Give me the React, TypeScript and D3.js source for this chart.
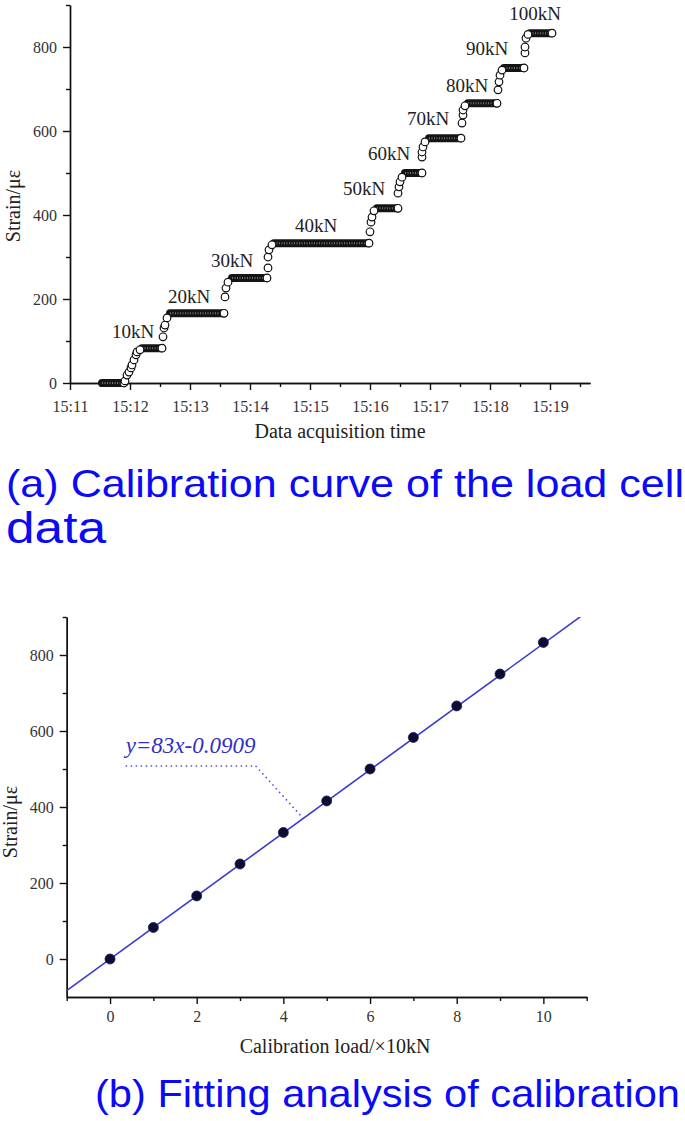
import React, { useEffect, useRef } from "react";
import * as d3 from "d3";

// (a) load cell record: flat holds and the points on each loading ramp
const holdStart = ["15:11:32", "15:12:12", "15:12:40", "15:13:42", "15:14:24", "15:16:07", "15:16:35", "15:16:59", "15:17:38", "15:18:14", "15:18:40"];
const holdEnd = ["15:11:54", "15:12:32", "15:13:34", "15:14:17", "15:15:59", "15:16:28", "15:16:52", "15:17:31", "15:18:07", "15:18:34", "15:19:02"];
const holdStrain = [0, 83, 166, 250, 333, 416, 500, 583, 666, 750, 833];

const rampTimes = [
  "15:11:55", "15:11:57", "15:11:59", "15:12:01", "15:12:02", "15:12:04", "15:12:06", "15:12:07", "15:12:10",
  "15:12:33", "15:12:34", "15:12:35", "15:12:37",
  "15:13:35", "15:13:36", "15:13:38",
  "15:14:18", "15:14:18", "15:14:19", "15:14:22",
  "15:16:00", "15:16:01", "15:16:02", "15:16:04",
  "15:16:28", "15:16:29", "15:16:30", "15:16:32",
  "15:16:52", "15:16:52", "15:16:53", "15:16:55",
  "15:17:32", "15:17:33", "15:17:33", "15:17:35",
  "15:18:08", "15:18:09", "15:18:10", "15:18:12",
  "15:18:35", "15:18:35", "15:18:36", "15:18:38"
];
const rampStrain = [
  5, 19, 26, 36, 43, 55, 67, 74, 79,
  110, 131, 138, 155,
  205, 226, 240,
  274, 300, 317, 329,
  360, 383, 395, 410,
  452, 467, 479, 490,
  538, 550, 562, 574,
  619, 638, 650, 660,
  698, 717, 733, 745,
  786, 800, 821, 830
];

const loadLabels = ["10kN", "20kN", "30kN", "40kN", "50kN", "60kN", "70kN", "80kN", "90kN", "100kN"];
const labelTimes = ["15:12:03", "15:12:59", "15:13:42", "15:15:06", "15:15:54", "15:16:19", "15:16:58", "15:17:37", "15:17:57", "15:18:45"];
const labelStrain = [107, 190, 276, 360, 448, 531, 614, 693, 781, 864];

const timeTicks = ["15:11", "15:12", "15:13", "15:14", "15:15", "15:16", "15:17", "15:18", "15:19"];

// (b) calibration fit
const loads = [0, 1, 2, 3, 4, 5, 6, 7, 8, 9, 10];
const strains = [0, 83, 166, 250, 333, 416, 500, 583, 666, 750, 833];
const fitSlope = 83;
const fitIntercept = -0.0909;

const serif = "'Liberation Serif', 'Times New Roman', serif";
const sans = "'Liberation Sans', Arial, sans-serif";
const tickColor = "#333";

const App = () => {
  const svgRef = useRef(null);

  useEffect(() => {
    const svg = d3.select(svgRef.current);
    svg.selectAll("*").remove();
    const width = 685;
    const height = 1121;
    svg.attr("width", width).attr("height", height);
    svg.append("rect").attr("width", width).attr("height", height).attr("fill", "#fff");

    const parseT = d3.timeParse("%H:%M:%S");
    const parseM = d3.timeParse("%H:%M");

    const styleAxis = (g) => {
      g.selectAll("path,line").attr("stroke", "#111").attr("stroke-width", 1.4);
      g.selectAll("text").attr("fill", tickColor).style("font-family", serif).style("font-size", "16px");
    };

    // ---------- chart (a) ----------
    const xa = d3.scaleTime().domain([parseT("15:11:00"), parseT("15:19:40")]).range([70, 590]);
    const ya = d3.scaleLinear().domain([0, 900]).range([383, 5]);

    const ga = svg.append("g");

    ga.append("g")
      .attr("transform", "translate(0,383)")
      .call(d3.axisBottom(xa).tickValues(timeTicks.map(parseM)).tickFormat(d3.timeFormat("%H:%M")).tickSize(7).tickSizeOuter(0).tickPadding(11))
      .call(styleAxis);
    ga.append("g")
      .attr("transform", "translate(0,383)")
      .call(d3.axisBottom(xa).tickValues(timeTicks.map((t) => d3.timeSecond.offset(parseM(t), 30))).tickFormat("").tickSize(4).tickSizeOuter(0))
      .call(styleAxis);
    ga.append("g")
      .attr("transform", "translate(70,0)")
      .call(d3.axisLeft(ya).tickValues([0, 200, 400, 600, 800]).tickSize(7).tickSizeOuter(0).tickPadding(6))
      .call(styleAxis);
    ga.append("g")
      .attr("transform", "translate(70,0)")
      .call(d3.axisLeft(ya).tickValues([100, 300, 500, 700, 900]).tickFormat("").tickSize(4).tickSizeOuter(0))
      .call(styleAxis);

    // flat holds: dense overlapping markers read as a dark band
    holdStrain.forEach((v, i) => {
      const x1 = xa(parseT(holdStart[i]));
      const x2 = xa(parseT(holdEnd[i]));
      ga.append("line")
        .attr("x1", x1).attr("x2", x2).attr("y1", ya(v)).attr("y2", ya(v))
        .attr("stroke", "#141414").attr("stroke-width", 8).attr("stroke-linecap", "round");
      ga.append("line")
        .attr("x1", x1).attr("x2", x2).attr("y1", ya(v)).attr("y2", ya(v))
        .attr("stroke", "#707070").attr("stroke-width", 2).attr("stroke-dasharray", "1 1.5");
      ga.append("circle")
        .attr("cx", x2).attr("cy", ya(v)).attr("r", 3.8)
        .attr("fill", "#fff").attr("stroke", "#111").attr("stroke-width", 1.2);
    });

    ga.selectAll(".ramp")
      .data(rampTimes.map((t, i) => [parseT(t), rampStrain[i]]))
      .enter()
      .append("circle")
      .attr("cx", (d) => xa(d[0]))
      .attr("cy", (d) => ya(d[1]))
      .attr("r", 3.8)
      .attr("fill", "#fff")
      .attr("stroke", "#111")
      .attr("stroke-width", 1.2);

    ga.selectAll(".load-label")
      .data(loadLabels)
      .enter()
      .append("text")
      .attr("x", (d, i) => xa(parseT(labelTimes[i])))
      .attr("y", (d, i) => ya(labelStrain[i]))
      .attr("text-anchor", "middle")
      .attr("fill", "#222")
      .style("font-family", serif)
      .style("font-size", "19px")
      .text((d) => d);

    ga.append("text")
      .attr("x", 340).attr("y", 438)
      .attr("text-anchor", "middle")
      .attr("fill", "#222")
      .style("font-family", serif).style("font-size", "20px")
      .text("Data acquisition time");

    ga.append("text")
      .attr("transform", "translate(20,206) rotate(-90)")
      .attr("text-anchor", "middle")
      .attr("fill", "#222")
      .style("font-family", serif).style("font-size", "20px")
      .text("Strain/με");

    // ---------- captions ----------
    svg.append("text")
      .attr("x", 6).attr("y", 497)
      .attr("textLength", 678).attr("lengthAdjust", "spacingAndGlyphs")
      .attr("fill", "#0a0af5")
      .style("font-family", sans).style("font-size", "39px")
      .text("(a) Calibration curve of the load cell");
    svg.append("text")
      .attr("x", 6).attr("y", 543)
      .attr("textLength", 100).attr("lengthAdjust", "spacingAndGlyphs")
      .attr("fill", "#0a0af5")
      .style("font-family", sans).style("font-size", "44px")
      .text("data");

    // ---------- chart (b) ----------
    const xb = d3.scaleLinear().domain([-1, 11]).range([66.7, 586.7]);
    const yb = d3.scaleLinear().domain([-100, 900]).range([997, 617]);

    const gb = svg.append("g");
    gb.append("g")
      .attr("transform", "translate(0,997)")
      .call(d3.axisBottom(xb).tickValues([0, 2, 4, 6, 8, 10]).tickSize(7).tickSizeOuter(0).tickPadding(7))
      .call(styleAxis);
    gb.append("g")
      .attr("transform", "translate(0,997)")
      .call(d3.axisBottom(xb).tickValues([-1, 1, 3, 5, 7, 9, 11]).tickFormat("").tickSize(4).tickSizeOuter(0))
      .call(styleAxis);
    gb.append("g")
      .attr("transform", "translate(66.7,0)")
      .call(d3.axisLeft(yb).tickValues([0, 200, 400, 600, 800]).tickSize(7).tickSizeOuter(0).tickPadding(6))
      .call(styleAxis);
    gb.append("g")
      .attr("transform", "translate(66.7,0)")
      .call(d3.axisLeft(yb).tickValues([100, 300, 500, 700, 900]).tickFormat("").tickSize(4).tickSizeOuter(0))
      .call(styleAxis);

    svg.append("defs").append("clipPath").attr("id", "plot-b")
      .append("rect").attr("x", 66.7).attr("y", 617).attr("width", 520).attr("height", 380);

    gb.append("line")
      .attr("clip-path", "url(#plot-b)")
      .attr("x1", xb(-1)).attr("y1", yb(fitSlope * -1 + fitIntercept))
      .attr("x2", xb(11)).attr("y2", yb(fitSlope * 11 + fitIntercept))
      .attr("stroke", "#3b3bd0").attr("stroke-width", 1.6);

    gb.selectAll(".pt")
      .data(loads)
      .enter()
      .append("circle")
      .attr("cx", (d) => xb(d))
      .attr("cy", (d, i) => yb(strains[i]))
      .attr("r", 5)
      .attr("fill", "#0c0c30")
      .attr("stroke", "#1a1a5a")
      .attr("stroke-width", 0.8);

    // equation leader
    const leader = d3.line().x((d) => xb(d[0])).y((d) => yb(d[1]));
    gb.append("path")
      .attr("d", leader([[0.36, 508], [3.36, 508], [4.45, 371]]))
      .attr("fill", "none")
      .attr("stroke", "#5050d8")
      .attr("stroke-width", 1.6)
      .attr("stroke-dasharray", "1.5 3.5");
    gb.append("text")
      .attr("x", xb(0.36)).attr("y", yb(542))
      .attr("fill", "#3030c8")
      .style("font-family", serif).style("font-style", "italic").style("font-size", "23px")
      .text(`y=${fitSlope}x${fitIntercept}`);

    gb.append("text")
      .attr("x", 335).attr("y", 1053)
      .attr("text-anchor", "middle")
      .attr("fill", "#222")
      .style("font-family", serif).style("font-size", "20px")
      .text("Calibration load/×10kN");

    gb.append("text")
      .attr("transform", "translate(17,822) rotate(-90)")
      .attr("text-anchor", "middle")
      .attr("fill", "#222")
      .style("font-family", serif).style("font-size", "20px")
      .text("Strain/με");

    svg.append("text")
      .attr("x", 95).attr("y", 1107)
      .attr("textLength", 585).attr("lengthAdjust", "spacingAndGlyphs")
      .attr("fill", "#0a0af5")
      .style("font-family", sans).style("font-size", "39px")
      .text("(b) Fitting analysis of calibration");
  }, []);

  return <svg ref={svgRef} style={{ position: "absolute", left: 0, top: 0 }}></svg>;
};

export default App;
